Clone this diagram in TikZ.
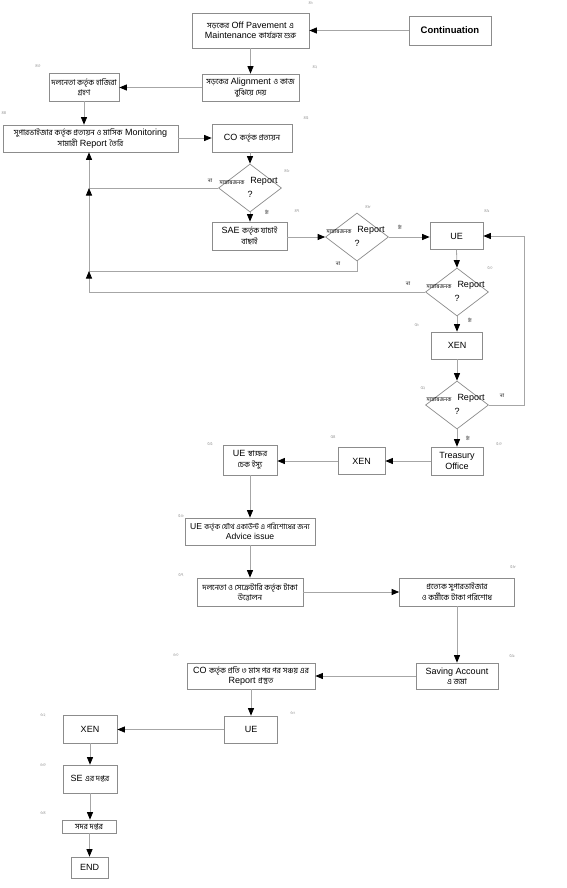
\documentclass[tikz,border=0pt]{standalone}
\usepackage{fontspec}
\setmainfont{Liberation Sans}
\newfontfamily\bnfont[Script=Bengali]{Hind Siliguri}
\newcommand\bng[1]{{\bnfont\fontsize{7.9}{9}\selectfont #1}}
\newcommand\bngs[1]{{\bnfont\fontsize{7.3}{9}\selectfont #1}}
\usetikzlibrary{arrows.meta,shapes.geometric,calc}
\begin{document}
\begin{tikzpicture}[x=1pt,y=-1pt,
  box/.style={draw=gray!90,line width=0.7pt,inner sep=1pt,align=center,font=\fontsize{9}{10.5}\selectfont},
  dia/.style={diamond,draw=gray!90,line width=0.7pt,inner sep=0pt,minimum width=63,minimum height=48},
  arr/.style={draw=gray!70,line width=0.8pt,-{Triangle[length=7.5pt,width=6pt,color=black]}},
  num/.style={font=\bnfont\fontsize{4.5}{5}\selectfont,text=gray!80,inner sep=0},
  yn/.style={font=\bnfont\fontsize{5}{6}\selectfont,inner sep=0},
  dbn/.style={font=\bnfont\fontsize{5.5}{6}\selectfont,inner sep=0},
  drep/.style={font=\fontsize{9}{10}\selectfont,inner sep=0},
]
\fill[white] (0,0) rectangle (567,888);
\useasboundingbox (0,0) rectangle (567,888);

% boxes
\node[box,minimum width=117,minimum height=35] (n1) at (250.5,30.5) {\bng{সড়কের} Off Pavement \bng{এ}\\Maintenance \bng{কার্যক্রম শুরু}};
\node[box,minimum width=82,minimum height=29,font=\fontsize{9.5}{11}\bfseries] (cont) at (450,30.5) {Continuation};
\node[box,minimum width=97,minimum height=27] (n2) at (250.5,87.5) {\bng{সড়কের} Alignment \bng{ও কাজ}\\\bng{বুঝিয়ে দেয়}};
\node[box,minimum width=70,minimum height=28] (n3) at (84,87) {\bng{দলনেতা কর্তৃক হাজিরা}\\\bng{গ্রহণ}};
\node[box,minimum width=175,minimum height=27] (n4) at (90.5,138.5) {\bng{সুপারভাইজার কর্তৃক প্রত্যয়ন ও মাসিক} Monitoring\\\bng{সামারী} Report \bng{তৈরি}};
\node[box,minimum width=80,minimum height=28] (n5) at (252,138) {CO \bng{কর্তৃক প্রত্যয়ন}};
\node[dia] (d1) at (250,188) {};
\node[box,minimum width=75,minimum height=28] (n6) at (249.5,236) {SAE \bng{কর্তৃক যাচাই}\\\bng{বাছাই}};
\node[dia] (d2) at (357,237) {};
\node[box,minimum width=53,minimum height=27] (n7) at (456.5,236) {UE};
\node[dia] (d3) at (457,292) {};
\node[box,minimum width=51,minimum height=27] (n8) at (457,345.5) {XEN};
\node[dia] (d4) at (457,405) {};
\node[box,minimum width=52,minimum height=28] (n9) at (457,461) {Treasury\\Office};
\node[box,minimum width=47,minimum height=27] (n10) at (361.5,461) {XEN};
\node[box,minimum width=54,minimum height=30] (n11) at (250,460) {UE \bng{স্বাক্ষর}\\\bng{চেক ইস্যু}};
\node[box,minimum width=130,minimum height=27,font=\fontsize{8.6}{10.5}\selectfont] (n12) at (250,531.5) {UE \bngs{কর্তৃক যৌথ একাউন্ট এ পরিশোধের জন্য}\\Advice issue};
\node[box,minimum width=106,minimum height=28] (n13) at (250,592) {\bng{দলনেতা ও সেক্রেটারি কর্তৃক টাকা}\\\bng{উত্তোলন}};
\node[box,minimum width=115,minimum height=28] (n14) at (457,592) {\bng{প্রত্যেক সুপারভাইজার}\\\bng{ও কর্মীকে টাকা পরিশোধ}};
\node[box,minimum width=82,minimum height=26] (n15) at (457,676) {Saving Account\\\bng{এ জমা}};
\node[box,minimum width=128,minimum height=26] (n16) at (251,676) {CO \bng{কর্তৃক প্রতি ৩ মাস পর পর সঞ্চয় এর}\\Report \bng{প্রস্তুত}};
\node[box,minimum width=53,minimum height=27] (n17) at (251,729.5) {UE};
\node[box,minimum width=54,minimum height=28] (n18) at (90,729) {XEN};
\node[box,minimum width=54,minimum height=28] (n19) at (90,779) {SE \bng{এর দপ্তর}};
\node[box,minimum width=54,minimum height=13,inner sep=0pt] (n20) at (89,826.5) {\bng{সদর দপ্তর}};
\node[box,minimum width=37,minimum height=21] (n21) at (89.5,867.5) {END};

% diamond texts
\foreach \d in {d1,d2,d3,d4}{
  \node[dbn] (\d b) at ($(\d.center)+(-18,-5.5)$) {সন্তোষজনক};
  \node[drep] (\d r) at ($(\d.center)+(14,-6.5)$) {Report};
  \node[drep] (\d q) at ($(\d.center)+(0,6)$) {?};
}

% helper coordinates
\coordinate (L1) at (89,188);
\coordinate (L2) at (89,271);
\coordinate (L3) at (89,292);
\coordinate (R1) at (524,405);

% connectors
\draw[arr] (cont.west) -- (n1.east);
\draw[arr] (n1.south) -- (n2.north);
\draw[arr] (n2.west) -- (n3.east |- n2.west);
\draw[arr] (n3.south) -- (n3.south |- n4.north);
\draw[arr] (n4.east |- n5.west) -- (n5.west);
\draw[arr] (n5.south -| d1.north) -- (d1.north);
\draw[arr] (d1.west) -- (L1) -- (L1 |- n4.south);
\draw[arr] (d1.south) -- (d1.south |- n6.north);
\draw[arr] (n6.east |- d2.west) -- (d2.west);
\draw[arr] (d2.east) -- (n7.west |- d2.east);
\draw[arr] (d2.south) |- (L2) -- (L1);
\draw[arr] (n7.south) -- (d3.north);
\draw[arr] (d3.west) -- (L3) -- (L2);
\draw[arr] (d3.south) -- (n8.north);
\draw[arr] (n8.south) -- (d4.north);
\draw[arr] (d4.east) -- (R1) |- (n7.east);
\draw[arr] (d4.south) -- (n9.north);
\draw[arr] (n9.west) -- (n10.east);
\draw[arr] (n10.west) -- (n11.east |- n10.west);
\draw[arr] (n11.south) -- (n12.north);
\draw[arr] (n12.south) -- (n13.north);
\draw[arr] (n13.east) -- (n14.west);
\draw[arr] (n14.south) -- (n15.north);
\draw[arr] (n15.west) -- (n16.east);
\draw[arr] (n16.south) -- (n17.north);
\draw[arr] (n17.west) -- (n18.east |- n17.west);
\draw[arr] (n18.south) -- (n19.north);
\draw[arr] (n19.south) -- (n19.south |- n20.north);
\draw[arr] (n20.south -| n21.north) -- (n21.north);

% yes / no labels
\node[yn] (y1n) at (210,181) {না};
\node[yn] (y1y) at (267,212) {হাঁ};
\node[yn] (y2y) at (400,227) {হাঁ};
\node[yn] (y2n) at (338,264) {না};
\node[yn] (y3n) at (408,284) {না};
\node[yn] (y3y) at (470,320) {হাঁ};
\node[yn] (y4n) at (502,396) {না};
\node[yn] (y4y) at (468,438) {হাঁ};

% step numbers
\node[num] (s41) at (311,3) {৪১};
\node[num] (s42) at (315,67) {৪২};
\node[num] (s43) at (38,66) {৪৩};
\node[num] (s44) at (4,113) {৪৪};
\node[num] (s45) at (306,118) {৪৫};
\node[num] (s46) at (287,171) {৪৬};
\node[num] (s47) at (297,211) {৪৭};
\node[num] (s48) at (368,207) {৪৮};
\node[num] (s49) at (487,211) {৪৯};
\node[num] (s50) at (490,268) {৫০};
\node[num] (s51) at (417,325) {৫১};
\node[num] (s52) at (423,388) {৫২};
\node[num] (s53) at (499,444) {৫৩};
\node[num] (s54) at (333,437) {৫৪};
\node[num] (s55) at (210,444) {৫৫};
\node[num] (s56) at (181,516) {৫৬};
\node[num] (s57) at (181,575) {৫৭};
\node[num] (s58) at (513,567) {৫৮};
\node[num] (s59) at (512,656) {৫৯};
\node[num] (s60) at (176,655) {৬০};
\node[num] (s61) at (293,713) {৬১};
\node[num] (s62) at (43,715) {৬২};
\node[num] (s63) at (43,765) {৬৩};
\node[num] (s64) at (43,813) {৬৪};
\end{tikzpicture}
\end{document}
